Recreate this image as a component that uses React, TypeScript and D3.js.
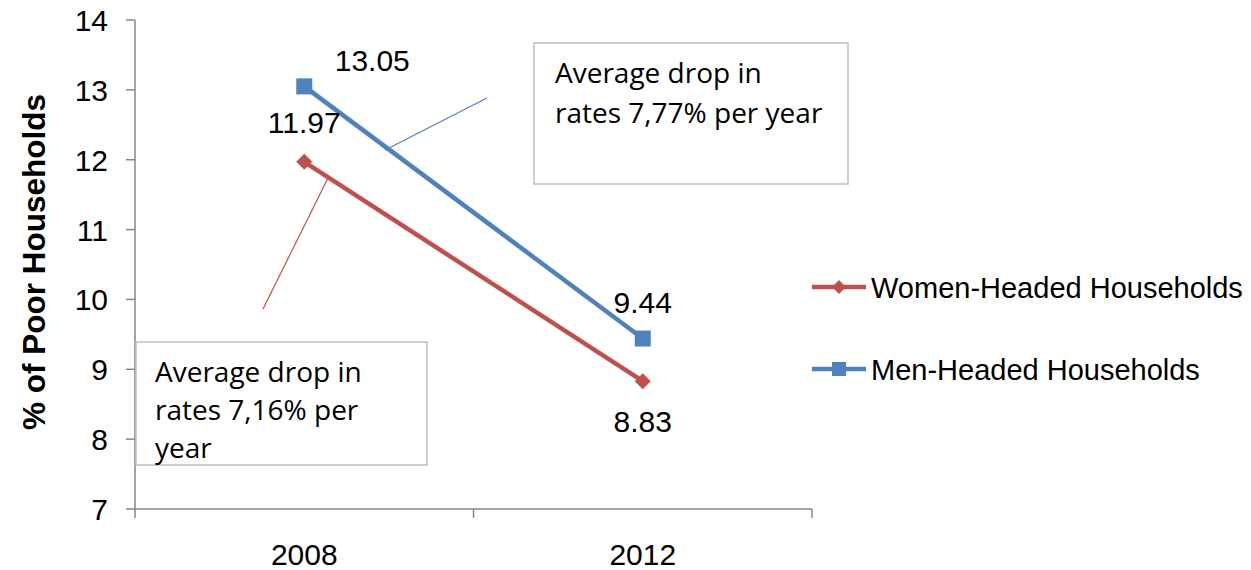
import React from "react";
import * as d3 from "d3";

const years = ["2008", "2012"];
const womenValues = [11.97, 8.83];
const menValues = [13.05, 9.44];
const yTicks = [7, 8, 9, 10, 11, 12, 13, 14];
const seriesNames = ["Women-Headed Households", "Men-Headed Households"];
const noteMen = ["Average drop in", "rates 7,77% per year"];
const noteWomen = ["Average drop in", "rates 7,16% per", "year"];

const W = 1251;
const H = 570;
const RED = "#C0504D";
const BLUE = "#4F81BD";
const AXIS = "#868686";
const FONT = "Liberation Sans, Arial, sans-serif";
const NOTE_FONT = "'Open Sans', 'Noto Sans', sans-serif";

export default function App() {
  const x = d3.scaleBand<string>().domain(years).range([135, 812]);
  const y = d3.scaleLinear().domain([7, 14]).range([509, 20]);
  const cx = (yr: string) => (x(yr) as number) + x.bandwidth() / 2;

  const line = d3
    .line<number>()
    .x((_, i) => cx(years[i]))
    .y((v) => y(v));

  const diamond = (px: number, py: number, r: number) =>
    `M${px},${py - r}L${px + r},${py}L${px},${py + r}L${px - r},${py}Z`;

  const boundaries = [135, ...years.map((yr) => (x(yr) as number) + x.bandwidth())];

  return (
    <svg width={W} height={H} style={{ position: "absolute", left: 0, top: 0, background: "#fff" }}>
      {/* y axis */}
      <line x1={135} x2={135} y1={y(14)} y2={y(7)} stroke={AXIS} strokeWidth={1.5} />
      {yTicks.map((t) => (
        <g key={t}>
          <line x1={126} x2={135} y1={y(t)} y2={y(t)} stroke={AXIS} strokeWidth={1.5} />
          <text x={108} y={y(t) + 11} textAnchor="end" fontFamily={FONT} fontSize={30} fill="#000">
            {t}
          </text>
        </g>
      ))}
      {/* x axis */}
      <line x1={135} x2={812} y1={y(7)} y2={y(7)} stroke={AXIS} strokeWidth={1.5} />
      {boundaries.map((b, i) => (
        <line key={i} x1={b} x2={b} y1={y(7)} y2={y(7) + 9} stroke={AXIS} strokeWidth={1.5} />
      ))}
      {years.map((yr) => (
        <text key={yr} x={cx(yr)} y={565} textAnchor="middle" fontFamily={FONT} fontSize={30} fill="#000">
          {yr}
        </text>
      ))}
      <text
        transform={`translate(45,262) rotate(-90)`}
        textAnchor="middle"
        fontFamily={FONT}
        fontSize={31.5}
        fontWeight="bold"
        fill="#000"
      >
        % of Poor Households
      </text>

      {/* annotation boxes and leaders */}
      <rect x={534} y={43} width={314} height={141} fill="#fff" stroke="#BFBFBF" strokeWidth={1.5} />
      {noteMen.map((s, i) => (
        <text key={i} x={555} y={83 + i * 40} fontFamily={NOTE_FONT} fontSize={28} fill="#000">
          {s}
        </text>
      ))}
      <line x1={487} y1={98} x2={385} y2={150} stroke={BLUE} strokeWidth={1.2} />

      <rect x={136} y={342} width={291} height={123} fill="#fff" stroke="#BFBFBF" strokeWidth={1.5} />
      {noteWomen.map((s, i) => (
        <text key={i} x={155} y={382 + i * 38} fontFamily={NOTE_FONT} fontSize={28} fill="#000">
          {s}
        </text>
      ))}
      <line x1={263} y1={309} x2={328} y2={178} stroke={RED} strokeWidth={1.2} />

      {/* series */}
      <path d={line(womenValues) as string} fill="none" stroke={RED} strokeWidth={4.5} />
      {womenValues.map((v, i) => (
        <path key={i} d={diamond(cx(years[i]), y(v), 8)} fill={RED} />
      ))}
      <path d={line(menValues) as string} fill="none" stroke={BLUE} strokeWidth={4.5} />
      {menValues.map((v, i) => (
        <rect key={i} x={cx(years[i]) - 8} y={y(v) - 8} width={16} height={16} fill={BLUE} />
      ))}

      {/* data labels */}
      <text x={cx(years[0]) + 68} y={y(menValues[0]) - 15} textAnchor="middle" fontFamily={FONT} fontSize={30}>
        {menValues[0].toFixed(2)}
      </text>
      <text x={cx(years[0])} y={y(womenValues[0]) - 29} textAnchor="middle" fontFamily={FONT} fontSize={30}>
        {womenValues[0].toFixed(2)}
      </text>
      <text x={cx(years[1])} y={y(menValues[1]) - 26} textAnchor="middle" fontFamily={FONT} fontSize={30}>
        {menValues[1].toFixed(2)}
      </text>
      <text x={cx(years[1])} y={y(womenValues[1]) + 51} textAnchor="middle" fontFamily={FONT} fontSize={30}>
        {womenValues[1].toFixed(2)}
      </text>

      {/* legend */}
      {seriesNames.map((name, i) => {
        const ly = 287 + i * 82;
        const color = i === 0 ? RED : BLUE;
        return (
          <g key={name}>
            <line x1={812} x2={866} y1={ly} y2={ly} stroke={color} strokeWidth={4.5} />
            {i === 0 ? (
              <path d={diamond(839, ly, 7)} fill={color} />
            ) : (
              <rect x={832} y={ly - 7} width={14} height={14} fill={color} />
            )}
            <text x={871} y={ly + 11} fontFamily={FONT} fontSize={29} fill="#000">
              {name}
            </text>
          </g>
        );
      })}
    </svg>
  );
}
